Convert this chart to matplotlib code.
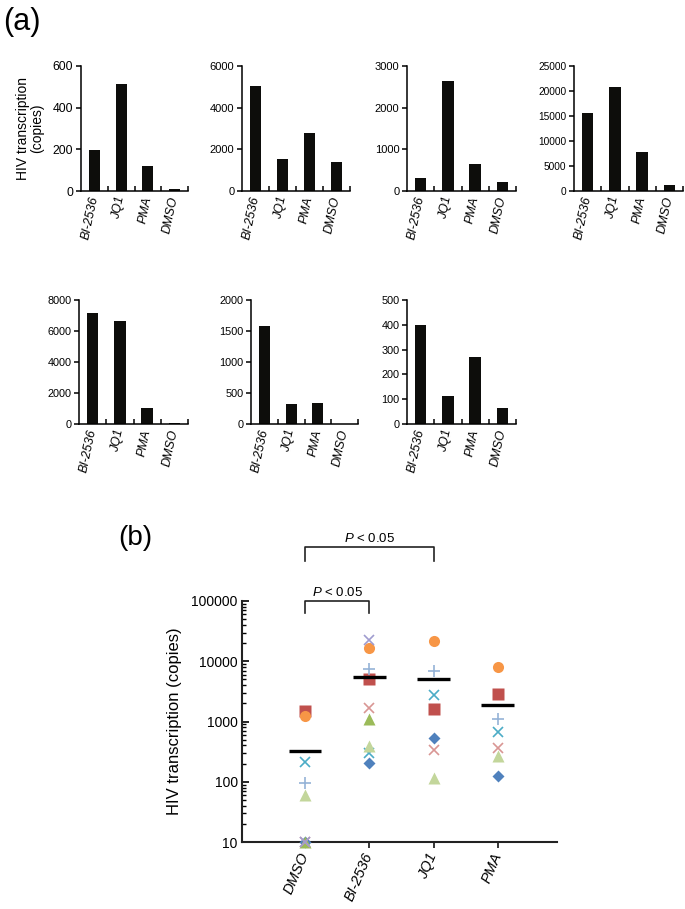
import numpy as np
import matplotlib
matplotlib.use("Agg")
import matplotlib.pyplot as plt
from matplotlib.transforms import blended_transform_factory

plt.rcParams['font.family'] = ['Liberation Sans', 'DejaVu Sans']
plt.rcParams['mathtext.fontset'] = 'custom'
plt.rcParams['mathtext.it'] = 'Liberation Sans:italic'
plt.rcParams['mathtext.rm'] = 'Liberation Sans'

# ---- data, panel (a): one bar panel per patient ----
cats_a = ['BI-2536', 'JQ1', 'PMA', 'DMSO']
pt1 = [197, 515, 121, 10]
pt2 = [5030, 1520, 2780, 1400]
pt3 = [312, 2630, 658, 216]
pt4 = [15600, 20800, 7740, 1300]
pt5 = [7140, 6650, 1030, 60]
pt6 = [1582, 322, 338, 0]
pt7 = [399, 114, 272, 63]
ymax_a = [600, 6000, 3000, 25000, 8000, 2000, 500]
ystep_a = [200, 2000, 1000, 5000, 2000, 500, 100]

# ---- data, panel (b): dot plot, value of 10 = below detection ----
cats_b = ['DMSO', 'BI-2536', 'JQ1', 'PMA']
blue_diamond = [10, 202, 538, 124]
red_square = [1500, 5000, 1590, 2860]
olive_tri = [10, 1100, np.nan, np.nan]
teal_x = [215, 303, 2750, 678]
orange_circle = [1250, 16400, 21900, 8130]
lightblue_plus = [94, 7430, 6890, 1090]
pink_x = [10, 1655, 336, 359]
lightgreen_tri = [60, 396, 114, 267]
lavender_x = [10, 22500, np.nan, np.nan]
means_b = [325, 5500, 5000, 1880]
comparisons = [('DMSO', 'BI-2536'), ('DMSO', 'JQ1')]

W, H = 685, 909
fig = plt.figure(figsize=(W / 100, H / 100), dpi=100)


def px_axes(l, t, r, b):
    return fig.add_axes([l / W, 1 - b / H, (r - l) / W, (b - t) / H])


boxes = [(81, 66, 188, 191), (242, 66, 350, 191), (407, 66, 516, 191),
         (574, 66, 683, 191), (79, 300, 188, 424), (251, 300, 358, 424),
         (407, 300, 516, 424)]
fs_tick = [8.8, 8, 8, 7.3, 7.8, 7.8, 7.8]
patients = [pt1, pt2, pt3, pt4, pt5, pt6, pt7]

for i, (vals, box) in enumerate(zip(patients, boxes)):
    ax = px_axes(*box)
    x = np.arange(len(cats_a))
    ax.bar(x, vals, width=0.42, color='#0d0d0b')
    ax.set_xlim(-0.5, 3.5)
    ax.set_ylim(0, ymax_a[i])
    ax.set_yticks(np.arange(0, ymax_a[i] + 1, ystep_a[i]))
    for s in ['top', 'right']:
        ax.spines[s].set_visible(False)
    for s in ['left', 'bottom']:
        ax.spines[s].set_linewidth(1.1)
    ax.tick_params(axis='y', direction='out', length=3.5, width=1.1,
                   labelsize=fs_tick[i], pad=2)
    ax.set_xticks(x + 0.5)
    ax.set_xticklabels([])
    ax.tick_params(axis='x', which='major', direction='in', length=3.5, width=1.1)
    ax.set_xticks(x, minor=True)
    ax.set_xticklabels(cats_a, minor=True, rotation=78, ha='right', va='center',
                       rotation_mode='anchor', fontsize=9, style='italic')
    ax.tick_params(axis='x', which='minor', length=0, pad=4)
    if i == 0:
        ax.set_ylabel('HIV transcription\n(copies)', fontsize=10, linespacing=1.05,
                      labelpad=6)

fig.text(3 / W, 1 - 22 / H, '(a)', fontsize=22, va='center', ha='left')
fig.text(118 / W, 1 - 538 / H, '(b)', fontsize=20, va='center', ha='left')

# ---- panel (b) ----
ax = px_axes(242, 601, 557, 842)
xb = np.arange(1, len(cats_b) + 1)
series = [
    (blue_diamond, 'D', '#4f81bd', 5.8, 1),
    (red_square, 's', '#c0504d', 8, 1),
    (olive_tri, '^', '#9bbb59', 8.5, 1),
    (teal_x, 'x', '#4bacc6', 7.5, 1.2),
    (orange_circle, 'o', '#f79646', 8, 1),
    (lightblue_plus, '+', '#95b3d7', 8.5, 1.2),
    (pink_x, 'x', '#d99694', 7.5, 1.2),
    (lightgreen_tri, '^', '#c3d69b', 8.5, 1),
    (lavender_x, 'x', '#a09ccf', 7.5, 1.2),
]
for vals, mk, col, ms, mew in series:
    if mk in ('x', '+'):
        ax.plot(xb, vals, mk, color=col, ms=ms, mew=mew, clip_on=False, zorder=3)
    else:
        ax.plot(xb, vals, mk, color=col, ms=ms, mec='none', clip_on=False, zorder=3)
ax.hlines(means_b, xb - 0.255, xb + 0.255, color='k', lw=2.4, zorder=4)

ax.set_yscale('log')
ax.set_ylim(10, 100000)
ax.set_xlim(0.02, 4.92)
ax.set_yticks([10, 100, 1000, 10000, 100000])
ax.set_yticklabels(['10', '100', '1000', '10000', '100000'])
for s in ['top', 'right']:
    ax.spines[s].set_visible(False)
for s in ['left', 'bottom']:
    ax.spines[s].set_linewidth(1.5)
    ax.spines[s].set_color('#222222')
ax.tick_params(axis='y', which='major', direction='in', length=5, width=1.2,
               labelsize=10, pad=3)
ax.tick_params(axis='y', which='minor', direction='in', length=3, width=1)
ax.set_xticks(xb)
ax.set_xticklabels(cats_b, rotation=67, ha='right', va='center',
                   rotation_mode='anchor', fontsize=10.5, style='italic')
ax.tick_params(axis='x', direction='out', length=4, width=1.1, pad=4)
ax.set_ylabel('HIV transcription (copies)', fontsize=12, labelpad=7)

tr = blended_transform_factory(ax.transData, ax.transAxes)
levels = [(1.001, 0.950, 1.035), (1.224, 1.166, 1.258)]
for (a, b), (top, leg, ty) in zip(comparisons, levels):
    x0 = cats_b.index(a) + 1
    x1 = cats_b.index(b) + 1
    ax.plot([x0, x0, x1, x1], [leg, top, top, leg], color='#222222', lw=1.2,
            transform=tr, clip_on=False)
    ax.text((x0 + x1) / 2, ty, r'$\it{P}$ < 0.05', transform=tr, ha='center',
            va='center', fontsize=9.5)

fig.savefig('out.png', dpi=100)
